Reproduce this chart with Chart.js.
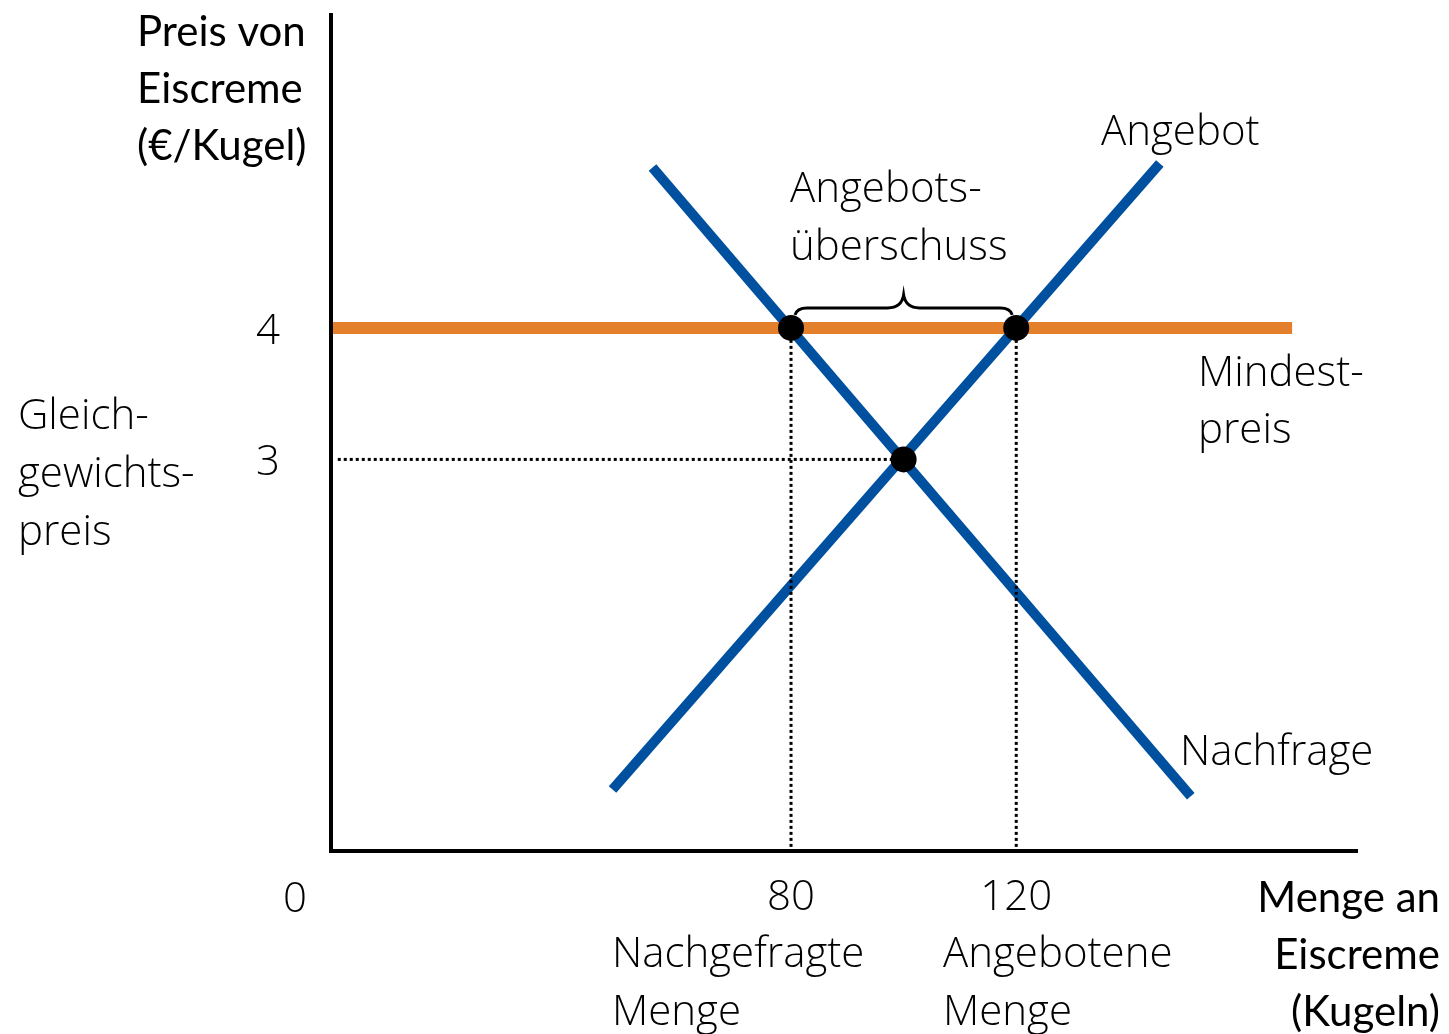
<!DOCTYPE html>
<html>
<head>
<meta charset="utf-8">
<script src="https://cdn.jsdelivr.net/npm/chart.js@4.4.1/dist/chart.umd.min.js"></script>
<style>
  html, body { margin: 0; padding: 0; background: #fff; }
  #wrap { width: 1449px; height: 1034px; }
</style>
</head>
<body>
<div id="wrap"><canvas id="mindestpreis" width="1449" height="1034"></canvas></div>
<script>
"use strict";
// Nachfrage und Angebot (Menge in Kugeln, Preis in €/Kugel)
const nachfrageMenge = [55.4, 151];
const nachfragePreis = [5.22, 0.44];
const angebotMenge = [48.3, 145.5];
const angebotPreis = [0.49, 5.25];

// Mindestpreis
const mindestpreis = 4;
const mindestMenge = [-1.5, 169];

// Gleichgewicht
const gleichgewichtMenge = 100;
const gleichgewichtPreis = 3;

// Mengen beim Mindestpreis
const nachgefragteMenge = 80;
const angeboteneMenge = 120;

// Achsenbeschriftungen
const preisTicks = [4, 3];
const mengeTicks = [80, 120];

const BLAU = "#0050A0";
const ORANGE = "#E47F2B";
const LIGHT = '300 42px "Open Sans"';
const TITEL = '42px Lato';

function punkte(xs, ys) {
  return xs.map((x, i) => ({ x: x, y: ys[i] }));
}

function punktiert(data) {
  return {
    data: data,
    showLine: true,
    borderColor: "#000",
    borderWidth: 3,
    borderDash: [3, 3],
    pointRadius: 0,
    clip: false
  };
}

// Achsen, Klammer und Texte
const beschriftung = {
  id: "beschriftung",
  afterDatasetsDraw(chart) {
    const ctx = chart.ctx;
    const a = chart.chartArea;
    const xs = chart.scales.x;
    const ys = chart.scales.y;
    ctx.save();

    // Achsen
    ctx.strokeStyle = "#000";
    ctx.lineWidth = 4;
    ctx.lineJoin = "miter";
    ctx.beginPath();
    ctx.moveTo(a.left, a.top);
    ctx.lineTo(a.left, a.bottom);
    ctx.lineTo(a.right, a.bottom);
    ctx.stroke();

    // geschweifte Klammer über dem Angebotsüberschuss
    const x1 = xs.getPixelForValue(nachgefragteMenge) + 4;
    const x2 = xs.getPixelForValue(angeboteneMenge) - 4;
    const yb = ys.getPixelForValue(mindestpreis) - 20;
    const xm = (x1 + x2) / 2;
    ctx.lineWidth = 3;
    ctx.beginPath();
    ctx.moveTo(x1, yb + 7);
    ctx.quadraticCurveTo(x1 + 2, yb, x1 + 12, yb);
    ctx.lineTo(xm - 16, yb);
    ctx.quadraticCurveTo(xm - 2, yb, xm, yb - 13);
    ctx.quadraticCurveTo(xm + 2, yb, xm + 16, yb);
    ctx.lineTo(x2 - 12, yb);
    ctx.quadraticCurveTo(x2 - 2, yb, x2, yb + 7);
    ctx.stroke();

    ctx.fillStyle = "#000";
    ctx.textBaseline = "alphabetic";

    // Tick-Beschriftungen
    ctx.font = LIGHT;
    ctx.textAlign = "center";
    preisTicks.forEach(p => ctx.fillText(String(p), 268, ys.getPixelForValue(p) + 16));
    mengeTicks.forEach(m => ctx.fillText(String(m), xs.getPixelForValue(m), 910));
    ctx.fillText("0", 295, 912);

    // Texte
    ctx.textAlign = "left";
    const texte = [
      ["Angebot", 1101, 145],
      ["Angebots-", 790, 202],
      ["überschuss", 790, 260],
      ["Mindest-", 1198, 386],
      ["preis", 1198, 443],
      ["Gleich-", 18, 429],
      ["gewichts-", 18, 487],
      ["preis", 18, 545],
      ["Nachfrage", 1180, 765],
      ["Nachgefragte", 612, 967],
      ["Menge", 612, 1025],
      ["Angebotene", 943, 967],
      ["Menge", 943, 1025]
    ];
    texte.forEach(t => ctx.fillText(t[0], t[1], t[2]));

    // Achsentitel
    ctx.font = TITEL;
    ctx.fillText("Preis von", 137, 46);
    ctx.fillText("Eiscreme", 137, 103);
    ctx.fillText("(€/Kugel)", 137, 160);
    ctx.textAlign = "right";
    ctx.fillText("Menge an", 1440, 912);
    ctx.fillText("Eiscreme", 1440, 969);
    ctx.fillText("(Kugeln)", 1440, 1026);

    ctx.restore();
  }
};

const ctx = document.getElementById("mindestpreis").getContext("2d");

new Chart(ctx, {
  type: "scatter",
  data: {
    datasets: [
      {
        // Schnittpunkte
        data: [
          { x: nachgefragteMenge, y: mindestpreis },
          { x: angeboteneMenge, y: mindestpreis },
          { x: gleichgewichtMenge, y: gleichgewichtPreis }
        ],
        pointRadius: 13,
        pointBackgroundColor: "#000",
        pointBorderWidth: 0,
        showLine: false,
        clip: false
      },
      {
        data: [{ x: mindestMenge[0], y: mindestpreis }, { x: mindestMenge[1], y: mindestpreis }],
        showLine: true,
        borderColor: ORANGE,
        borderWidth: 12,
        borderCapStyle: "butt",
        pointRadius: 0,
        clip: false
      },
      punktiert([{ x: nachgefragteMenge, y: mindestpreis }, { x: nachgefragteMenge, y: 0.023 }]),
      punktiert([{ x: angeboteneMenge, y: mindestpreis }, { x: angeboteneMenge, y: 0.023 }]),
      punktiert([{ x: -0.5, y: gleichgewichtPreis }, { x: gleichgewichtMenge, y: gleichgewichtPreis }]),
      {
        data: punkte(nachfrageMenge, nachfragePreis),
        showLine: true,
        borderColor: BLAU,
        borderWidth: 10,
        borderCapStyle: "butt",
        pointRadius: 0,
        clip: false
      },
      {
        data: punkte(angebotMenge, angebotPreis),
        showLine: true,
        borderColor: BLAU,
        borderWidth: 10,
        borderCapStyle: "butt",
        pointRadius: 0,
        clip: false
      }
    ]
  },
  options: {
    responsive: false,
    animation: false,
    layout: {
      padding: { left: 331, right: 91, top: 10, bottom: 183 }
    },
    plugins: {
      legend: { display: false },
      tooltip: { enabled: false }
    },
    scales: {
      x: { type: "linear", min: -1.7, max: 180.7, display: false },
      y: { type: "linear", min: 0.023, max: 6.394, display: false }
    }
  },
  plugins: [beschriftung]
});
</script>
</body>
</html>
